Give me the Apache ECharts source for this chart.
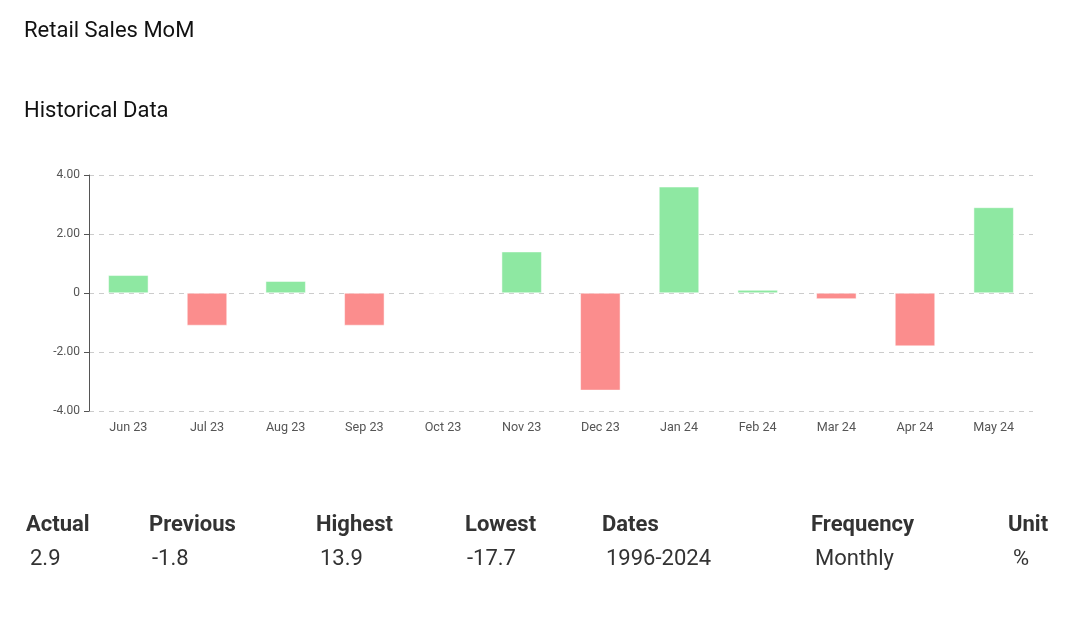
<!DOCTYPE html>
<html>
<head>
<meta charset="utf-8">
<script src="https://cdn.jsdelivr.net/npm/echarts@6/dist/echarts.min.js"></script>
<style>
html,body{margin:0;padding:0;background:#fff;}
#chart{width:1086px;height:623px;}
</style>
</head>
<body>
<div id="chart"></div>
<script>
const categories = ['Jun 23','Jul 23','Aug 23','Sep 23','Oct 23','Nov 23','Dec 23','Jan 24','Feb 24','Mar 24','Apr 24','May 24'];
const values = [0.6, -1.1, 0.4, -1.1, 0, 1.4, -3.3, 3.6, 0.1, -0.2, -1.8, 2.9];
const statHeaders = ['Actual','Previous','Highest','Lowest','Dates','Frequency','Unit'];
const statValues = ['2.9','-1.8','13.9','-17.7','1996-2024','Monthly','%'];
const headerX = [26, 149, 316, 465, 602, 811, 1008];
const valueX = [30, 152, 320, 467, 606, 815, 1013];

const GREEN = '#8ee8a2';
const RED = '#fb8d8d';

const chart = echarts.init(document.getElementById('chart'), null, {renderer: 'canvas'});

const graphics = [
  {type: 'text', left: 24, top: 20, style: {text: 'Retail Sales MoM', font: '22px Roboto', fill: '#111'}},
  {type: 'text', left: 24, top: 100, style: {text: 'Historical Data', font: '22px Roboto', fill: '#111'}}
];
statHeaders.forEach((h, i) => {
  graphics.push({type: 'text', left: headerX[i], top: 514, style: {text: h, font: 'bold 22px Roboto', fill: '#333'}});
});
statValues.forEach((v, i) => {
  graphics.push({type: 'text', left: valueX[i], top: 548, style: {text: v, font: '22px Roboto', fill: '#333'}});
});

chart.setOption({
  animation: false,
  graphic: graphics,
  grid: {left: 89, right: 53, top: 175, bottom: 212, containLabel: false},
  xAxis: {
    type: 'category',
    data: categories,
    axisLine: {show: false},
    axisTick: {show: false},
    axisLabel: {color: '#555', fontSize: 12.6, fontFamily: 'Roboto', margin: 10}
  },
  yAxis: {
    type: 'value',
    min: -4, max: 4, interval: 2,
    axisLine: {show: true, lineStyle: {color: '#555'}},
    axisTick: {show: true, length: 5, lineStyle: {color: '#555'}},
    axisLabel: {
      color: '#555', fontSize: 12, fontFamily: 'Roboto', margin: 9,
      formatter: v => v === 0 ? '0' : v.toFixed(2)
    },
    splitLine: {show: true, lineStyle: {color: '#ccc', type: [5, 5]}}
  },
  series: [{
    type: 'bar',
    barWidth: 40,
    data: values.map(v => ({
      value: v,
      itemStyle: {color: v >= 0 ? GREEN : RED, borderColor: '#ffffff', borderWidth: 0.5}
    }))
  }]
});
</script>
</body>
</html>
